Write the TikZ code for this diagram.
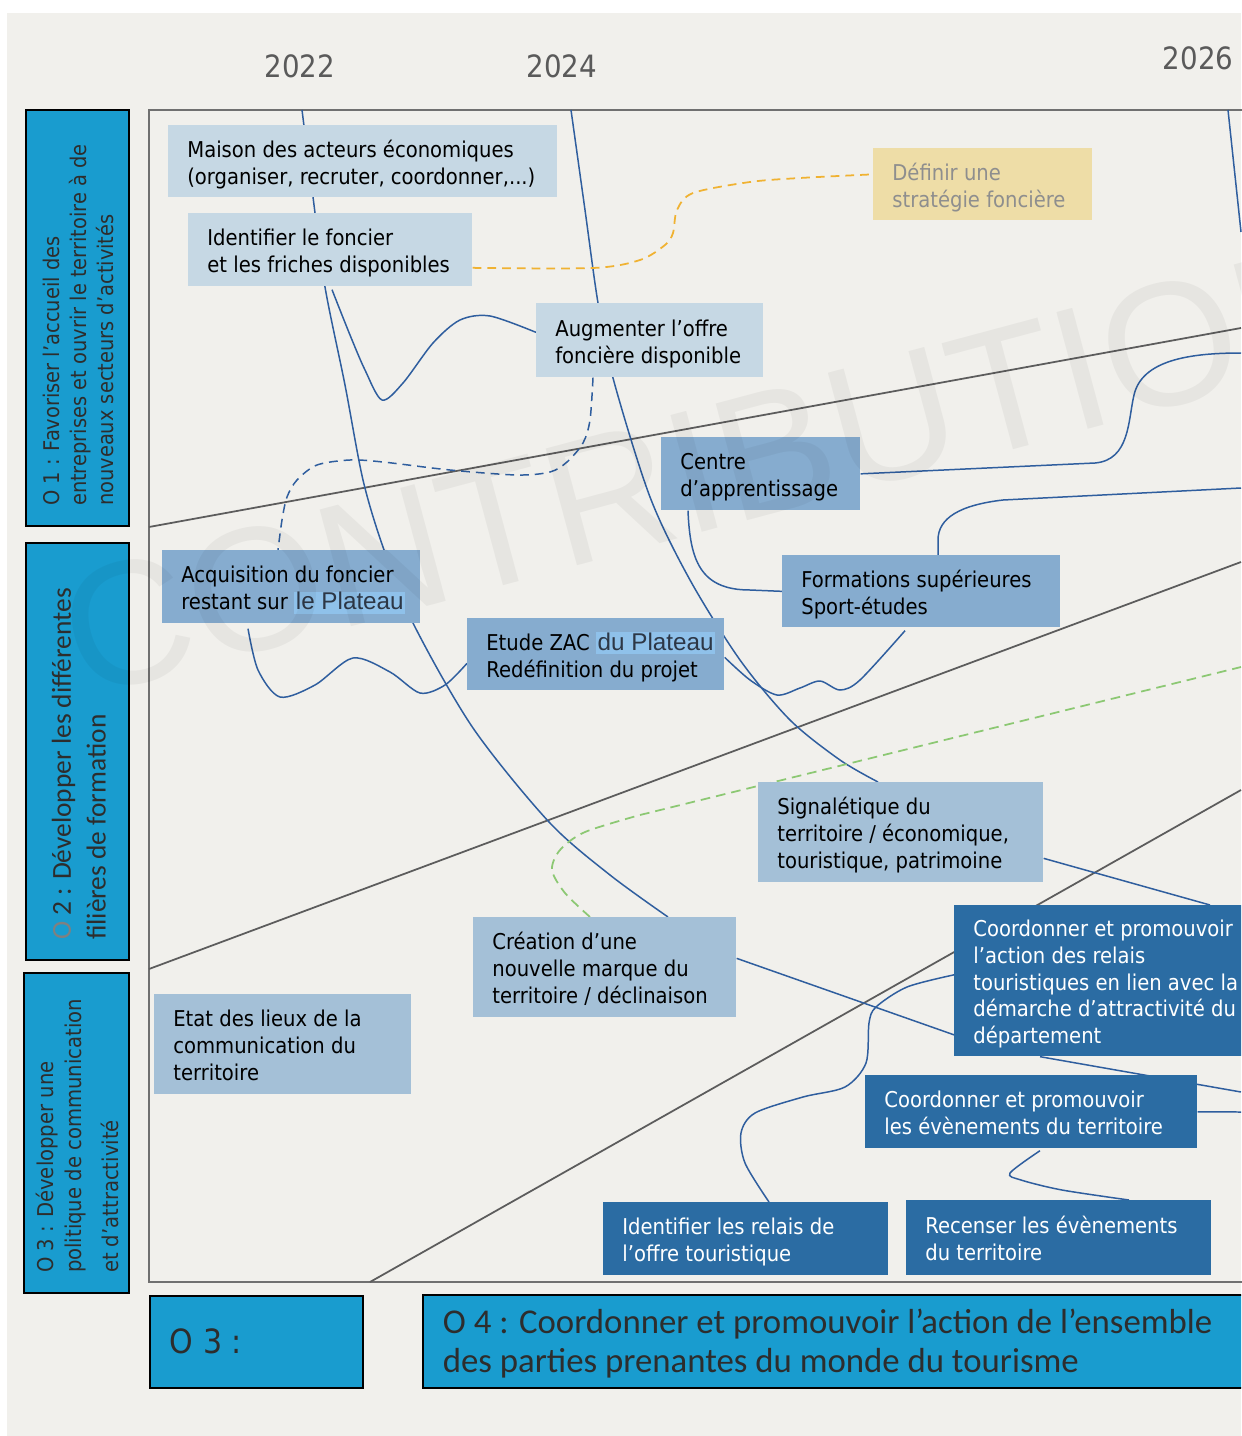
\documentclass[tikz,border=0pt]{standalone}
\usepackage{fontspec}
\setmainfont{DejaVu Sans Condensed}
\newfontfamily\wmfont{Liberation Sans}
\newfontfamily\objfont{Carlito}
\newfontfamily\platfont{Liberation Sans}
\usepackage{tikz}
\usetikzlibrary{calc}
\pgfdeclarelayer{back}
\pgfdeclarelayer{lines}
\pgfsetlayers{back,lines,main}

\definecolor{bgc}{RGB}{241,240,236}
\definecolor{framec}{RGB}{112,112,112}
\definecolor{lanec}{RGB}{92,92,92}
\definecolor{objc}{RGB}{25,156,207}
\definecolor{objtxt}{RGB}{45,45,45}
\definecolor{paleblue}{RGB}{198,216,228}
\definecolor{midblue}{RGB}{134,172,207}
\definecolor{softblue}{RGB}{164,192,215}
\definecolor{darkblue}{RGB}{43,108,163}
\definecolor{sandc}{RGB}{238,221,167}
\definecolor{sandtxt}{RGB}{142,142,142}
\definecolor{hlc}{RGB}{143,193,234}
\definecolor{hltxt}{RGB}{45,55,70}
\definecolor{linkc}{RGB}{47,94,158}
\definecolor{orangec}{RGB}{240,178,50}
\definecolor{greenc}{RGB}{140,200,115}
\definecolor{yearc}{RGB}{90,90,90}

% left aligned lines in a box of fixed width
\newcommand{\txtrows}[2]{\makebox[#1][l]{\raisebox{-2.2pt}[\height][\depth]{\begin{tabular}{@{}l@{}}#2\end{tabular}}}}
\newcommand{\plat}[1]{{\setlength{\fboxsep}{0pt}\colorbox{hlc}{\kern1pt\rule[-2.3pt]{0pt}{12.5pt}\platfont\fontsize{13.8}{15.3}\selectfont\color{hltxt}#1\kern1pt}}}

\begin{document}
\begin{tikzpicture}[x=0.02cm, y=-0.02cm,
    task/.style={anchor=north west, inner xsep=0.38cm, inner ysep=0pt, font=\fontsize{12.4}{15.3}\selectfont, text=black},
    pale/.style={task, fill=paleblue},
    mid/.style={task, fill=midblue},
    soft/.style={task, fill=softblue},
    dark/.style={task, fill=darkblue, text=white},
    sand/.style={task, fill=sandc, text=sandtxt},
    goal/.style={draw=black, line width=1pt, fill=objc, text=objtxt, inner xsep=0.4cm, inner ysep=0pt},
    year/.style={text=yearc, font=\fontsize{17.5}{20}\selectfont},
    lane/.style={draw=lanec, line width=1pt},
    link/.style={draw=linkc, line width=0.85pt},
    ]
    \useasboundingbox (0,0) rectangle (1241,1436);
    \clip (0,0) rectangle (1241,1436);

    % Years
    \node[year] (y22) at (300,66) {2022};
    \node[year] (y24) at (562,66) {2024};
    \node[year] (y26) at (1198,58) {2026};

    % Objectives
    \node[goal, rotate=90, minimum width=8.32cm, minimum height=2.06cm,
        font=\fontsize{12.3}{15.3}\selectfont] (o1) at (77.5,318)
        {\txtrows{7.52cm}{O 1 : Favoriser l’accueil des\\entreprises et ouvrir le territoire à de\\nouveaux secteurs d’activités}};
    \node[goal, rotate=90, minimum width=8.34cm, minimum height=2.06cm,
        font=\objfont\fontsize{15.6}{19.8}\selectfont] (o2) at (77.5,751.5)
        {\txtrows{7.54cm}{{\color{gray}O} 2 : Développer les différentes\\filières de formation}};
    \node[goal, rotate=90, minimum width=6.40cm, minimum height=2.10cm,
        font=\fontsize{12.4}{15.8}\selectfont] (o3) at (76.5,1133)
        {\txtrows{5.60cm}{O 3 : Développer une\\politique de communication\\[5pt]et d’attractivité}};
    \node[goal, anchor=north west, minimum width=4.26cm, minimum height=1.84cm,
        font=\fontsize{19}{22}\selectfont] (o3b) at (149,1295) {\txtrows{3.46cm}{O 3 :}};
    \node[goal, anchor=north west, minimum width=16.9cm, minimum height=1.86cm,
        font=\objfont\fontsize{19.8}{22.5}\selectfont] (o4) at (422,1294)
        {\txtrows{16.1cm}{O 4 : Coordonner et promouvoir l’action de l’ensemble\\des parties prenantes du monde du tourisme}};

    % Actions
    \node[pale, minimum height=1.44cm] (maison) at (168,125)
        {\txtrows{7.02cm}{Maison des acteurs économiques\\(organiser, recruter, coordonner,...)}};
    \node[pale, minimum height=1.46cm] (identif) at (188,213)
        {\txtrows{4.92cm}{Identifier le foncier\\et les friches disponibles}};
    \node[sand, minimum height=1.44cm] (definir) at (873,148)
        {\txtrows{3.62cm}{Définir une\\stratégie foncière}};
    \node[pale, minimum height=1.48cm] (augment) at (536,303)
        {\txtrows{3.78cm}{Augmenter l’offre\\foncière disponible}};
    \node[mid, minimum height=1.46cm] (centre) at (661,437)
        {\txtrows{3.22cm}{Centre\\d’apprentissage}};
    \node[mid, minimum height=1.46cm] (acquis) at (162,550)
        {\txtrows{4.40cm}{Acquisition du foncier\\restant sur \plat{le Plateau}}};
    \node[mid, minimum height=1.44cm] (format) at (782,555)
        {\txtrows{4.80cm}{Formations supérieures\\Sport-études}};
    \node[mid, minimum height=1.44cm] (etude) at (467,618)
        {\txtrows{4.38cm}{Etude ZAC \plat{du Plateau}\\Redéfinition du projet}};
    \node[soft, minimum height=2.00cm] (signal) at (758,782)
        {\txtrows{4.94cm}{Signalétique du\\territoire / économique,\\touristique, patrimoine}};
    \node[dark, minimum height=3.02cm] (relais) at (954,905)
        {\txtrows{5.64cm}{Coordonner et promouvoir\\l’action des relais\\touristiques en lien avec la\\démarche d’attractivité du\\département}};
    \node[soft, minimum height=2.00cm] (creation) at (473,917)
        {\txtrows{4.50cm}{Création d’une\\nouvelle marque du\\territoire / déclinaison}};
    \node[soft, minimum height=2.00cm] (etat) at (154,994)
        {\txtrows{4.38cm}{Etat des lieux de la\\communication du\\territoire}};
    \node[dark, minimum height=1.46cm] (evenem) at (865,1075)
        {\txtrows{5.88cm}{Coordonner et promouvoir\\les évènements du territoire}};
    \node[dark, minimum height=1.46cm] (identrel) at (603,1202)
        {\txtrows{4.94cm}{Identifier les relais de\\l’offre touristique}};
    \node[dark, minimum height=1.50cm] (recens) at (906,1200)
        {\txtrows{5.34cm}{Recenser les évènements\\du territoire}};

    % Free ends
    \coordinate (t1) at (302,110);
    \coordinate (t2) at (571,110);
    \coordinate (t3) at (1228,110);
    \coordinate (e1) at (1241,353);
    \coordinate (e2) at (1241,488);
    \coordinate (e3) at (1241,232);
    \coordinate (e4) at (1241,1092);
    \coordinate (e5) at (1241,1112);
    \coordinate (e6) at (1241,667);

    % Background, frame and lanes
    \begin{pgfonlayer}{back}
        \fill[white] (0,0) rectangle (1241,1436);
        \fill[bgc] (7,13) rectangle (1241,1436);
        \draw[framec, line width=1.1pt] (1260,110) -- (149,110) -- (149,1282) -- (1260,1282);
        \draw[lane] (149,527) -- (1241,328);
        \draw[lane] (149,969) -- (1241,562);
        \draw[lane] (370,1282) -- (1241,790);
    \end{pgfonlayer}

    % Links
    \begin{pgfonlayer}{lines}
        \draw[link] plot[smooth] coordinates {(t1) (313,197) (325,287) (345,385) (363,480) (383,547)
            (413,623) (473,728) (549,822) (610,875) ($(creation.north west)+(195,0)$)};
        \draw[link] plot[smooth] coordinates {(t2) (585,210) (598,303) (613,378) (650,497) (690,580)
            (740,660) (790,720) (840,760) ($(signal.north west)+(120,0)$)};
        \draw[link] plot[smooth] coordinates {($(identif.south west)+(144,3)$) (350,335) (365,370)
            (382,400) (403,383) (433,343) (460,320) (490,316) ($(augment.west)+(0,-8)$)};
        \draw[link, dash pattern=on 5pt off 3.4pt] plot[smooth] coordinates {($(augment.south west)+(57,0)$)
            (590,420) (583,443) (567,462) (550,472) (517,475) (450,470) (383,462) (350,460) (317,465)
            (297,480) (287,497) (282,520) ($(acquis.north west)+(116,0)$)};
        \draw[link] plot[smooth] coordinates {($(acquis.south west)+(86,5)$) (258,670) (280,697)
            (315,685) (353,658) (390,672) (420,693) (445,685) ($(etude.west)+(0,9)$)};
        \draw[link] ($(centre.south west)+(27,0)$) .. controls (690,560) and (700,590) .. (750,590)
            -- (format.west);
        \draw[link] plot[smooth] coordinates {($(etude.east)+(0,3)$) (750,680) (777,695) (800,688)
            (820,681) (840,690) (860,680) ($(format.south west)+(123,3)$)};
        \draw[link] (centre.east) -- (1095,463) .. controls (1130,460) and (1128,420) .. (1134,395)
            .. controls (1142,360) and (1190,353) .. (e1);
        \draw[link] ($(format.north west)+(156,0)$) -- (938,540) .. controls (938,518) and (960,505)
            .. (1003,500) -- (e2);
        \draw[link] (t3) -- (e3);
        \draw[link] ($(signal.east)+(0,26)$) -- ($(relais.north west)+(256,0)$);
        \draw[link] ($(creation.east)+(0,-9)$) -- ($(relais.west)+(0,54)$);
        \draw[link] ($(relais.south west)+(86,0)$) -- (e4);
        \draw[link] (evenem.east) -- (e5);
        \draw[link] plot[smooth] coordinates {($(identrel.north west)+(166,0)$) (745,1163) (741,1133)
            (755,1113) (803,1097) (845,1087) (866,1063) (869,1023) (876,1007) (907,987)
            ($(relais.west)+(0,-6)$)};
        \draw[link] plot[smooth] coordinates {($(evenem.south west)+(175,2)$) (1010,1173) (1021,1180)
            (1062,1190) ($(recens.north west)+(223,0)$)};
        \draw[orangec, line width=1pt, dash pattern=on 5pt off 3.4pt] plot[smooth] coordinates
            {($(identif.east)+(0,18)$) (593,268) (640,260) (665,245) (673,233) (677,210) (693,193)
            (750,182) (800,178) ($(definir.west)+(0,-10)$)};
        \draw[greenc, line width=1pt, dash pattern=on 5.5pt off 3.4pt] plot[smooth] coordinates
            {($(creation.north west)+(117,0)$) (565,893) (552,870) (560,850) (585,832) (640,815)} -- (e6);
    \end{pgfonlayer}

    % Watermark
    \node[rotate=15, inner sep=0pt, text=black, text opacity=0.045,
        font=\wmfont\fontsize{100}{100}\selectfont] (wm) at (713,467) {CONTRIBUTION};
\end{tikzpicture}
\end{document}
